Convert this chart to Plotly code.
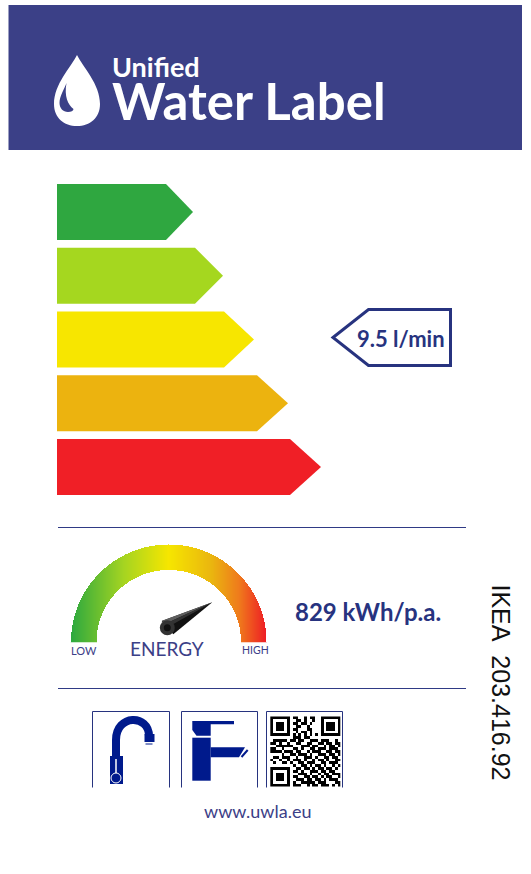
import numpy as np
import plotly.graph_objects as go

# rating bands, longest arrow is the worst class
band_lengths = [136, 166, 197, 231, 264]
band_colors = ["#2fa740", "#a5d71f", "#f7e600", "#ecb30f", "#f01f26"]

flow_label = "9.5 l/min"
energy_label = "829 kWh/p.a."
product_label = "IKEA\u00a0\u00a0203.416.92"
site_label = "www.uwla.eu"

gauge_stops = [
    [0.0, "#2ca83f"], [0.27, "#a5d421"], [0.5, "#f6e600"],
    [0.72, "#eab50f"], [0.86, "#ef7a1c"], [1.0, "#ee1c25"],
]

qr_rows = [
    "1111111011001011001111111",
    "1000001001101001001000001",
    "1011101011011010001011101",
    "1011101001100100001011101",
    "1011101011000110001011101",
    "1000001001011010001000001",
    "1111111010101010101111111",
    "0000000011101100000000000",
    "0111110110110011101110010",
    "1101001001100110011011011",
    "0011111100011101100101101",
    "1100100011010011011101110",
    "1111011101100101110011011",
    "0000100110111010011101101",
    "0110111001001110100110110",
    "1001001011101001011010011",
    "0100110100110111001101110",
    "0000000010011010110100101",
    "1111111001101101011011010",
    "1000001011010011101101100",
    "1011101000111010010110111",
    "1011101011001101101011001",
    "1011101001110110110101110",
    "1000001010011111011100011",
    "1111111011100101101110101",
]

NAVY = "#3b4087"
DARK_BLUE = "#27337f"
TAP_BLUE = "#001a8c"

fig = go.Figure()

# header
fig.add_shape(type="rect", x0=8.5, x1=522, y0=5, y1=150, fillcolor="#3b4087", line_width=0)
fig.add_shape(type="path", fillcolor="white", line_width=0, path=(
    "M 77 55 C 71 67 54 84 54 104 C 54 118 64 126 77 126 C 90 126 100 118 100 104 "
    "C 100 84 83 67 77 55 Z"))
fig.add_shape(type="path", fillcolor="#3b4087", line_width=0, path=(
    "M 66.5 83 C 64 90 59.5 96 59.5 103 C 59.5 108 63 112 68 112 C 71 112 73.5 111 73.5 109 "
    "C 68 105 64 96 66.5 83 Z"))


def add_text(text, x, y, size, color, xanchor="left", bold=False, angle=0, family="Lato"):
    fig.add_annotation(
        x=x, y=y, text="<b>{}</b>".format(text) if bold else text, showarrow=False,
        xanchor=xanchor, yanchor="middle", textangle=angle, align="left",
        font=dict(family=family, size=size, color=color),
    )


# one text block, the two lines sit closer than their own boxes would allow
add_text('<span style="font-size:27px">Unified</span><br>'
         '<span style="font-size:51px">Water Label</span>',
         109.5, 90, 33, "white", bold=True)

# rating arrows
band_x0 = 57
band_y0 = 184
band_height = 56
band_step = 63.75
tip_depths = [27, 28, 30, 31, 31]
for i, (length, color) in enumerate(zip(band_lengths, band_colors)):
    top = band_y0 + i * band_step
    tip = band_x0 + length
    shoulder = tip - tip_depths[i]
    fig.add_trace(go.Scatter(
        x=[band_x0, shoulder, tip, shoulder, band_x0, band_x0],
        y=[top, top, top + band_height / 2, top + band_height, top + band_height, top],
        fill="toself", fillcolor=color, mode="none", hoverinfo="skip",
    ))

# flow pointer
fig.add_shape(type="path", path="M 333 337.5 L 368.5 309.5 L 450.5 309.5 L 450.5 365.5 L 368.5 365.5 Z",
              fillcolor="white", line=dict(color=DARK_BLUE, width=3))
add_text(flow_label, 401, 338, 22, DARK_BLUE, xanchor="center", bold=True)

# separators
for y in [527.5, 688.5]:
    fig.add_shape(type="line", x0=58, x1=466, y0=y, y1=y, line=dict(color="#2f3a85", width=1))

# gauge, coloured left to right
cx, cy, r_out, r_in = 168.5, 642, 97.5, 72
gx = np.arange(cx - r_out, cx + r_out + 0.25, 0.5)
gy = np.arange(cy - r_out, cy + 0.25, 0.5)
xx, yy = np.meshgrid(gx, gy)
rr = np.hypot(xx - cx, yy - cy)
gz = (xx - gx[0]) / (gx[-1] - gx[0])
gz[(rr > r_out) | (rr < r_in)] = np.nan
fig.add_trace(go.Heatmap(x=gx, y=gy, z=gz, colorscale=gauge_stops, zmin=0, zmax=1,
                         showscale=False, hoverinfo="skip"))

# needle, lighter along its upper edge
fig.add_shape(type="path", fillcolor="#111111", line_width=0,
              path="M 212.3 602.3 L 161.7 621 L 173.3 634.3 Z")
fig.add_shape(type="path", fillcolor="#5e5e5e", line_width=0,
              path="M 212.3 602.3 L 162 620.7 L 165 624 Z")
fig.add_shape(type="path", fillcolor="#333333", line_width=0,
              path="M 212.3 602.3 L 165 624 L 168 627 Z")
fig.add_shape(type="circle", x0=159.8, x1=174.8, y0=620.2, y1=635.2, fillcolor="#333333", line_width=0)
fig.add_shape(type="circle", x0=163.8, x1=170.8, y0=624.2, y1=631.2, fillcolor="#111111", line_width=0)

add_text("LOW", 69, 650, 11, NAVY)
add_text("ENERGY", 166.5, 648, 19, NAVY, xanchor="center")
add_text("HIGH", 240, 650, 10.5, NAVY)
add_text(energy_label, 293, 611, 24, DARK_BLUE, bold=True)
add_text(product_label, 501, 682.5, 25, "#111111", xanchor="center", angle=90, family="Liberation Sans")

# icon frames, open at the bottom
for x0, x1 in [(92.5, 169.5), (181.5, 257.5), (266.5, 342.5)]:
    fig.add_shape(type="path", path="M {0} 787.5 L {0} 711.5 L {1} 711.5 L {1} 787.5".format(x0, x1),
                  line=dict(color=DARK_BLUE, width=1))

# kitchen tap
fig.add_shape(type="path", path="M 116 758 L 116 740 C 116 714 149 714 149 736",
              line=dict(color=TAP_BLUE, width=8))
fig.add_shape(type="rect", x0=110, x1=123, y0=756, y1=784, fillcolor=TAP_BLUE, line_width=0)
fig.add_shape(type="circle", x0=111, x1=121, y0=773, y1=783, line=dict(color="white", width=1))
fig.add_shape(type="line", x0=116, x1=116, y0=759, y1=773, line=dict(color="white", width=1.5))
fig.add_shape(type="rect", x0=144.5, x1=154.5, y0=734, y1=742, fillcolor=TAP_BLUE, line_width=0)
fig.add_shape(type="line", x0=145.5, x1=152.5, y0=744, y1=744, line=dict(color=TAP_BLUE, width=1))

# basin tap
fig.add_shape(type="path", fillcolor=TAP_BLUE, line_width=0,
              path="M 192.3 721 L 234 721 L 234 724.3 L 210.7 724.3 L 210.7 735.7 L 196.5 735.7 L 192.3 730 Z")
fig.add_shape(type="rect", x0=192.3, x1=210.7, y0=737.7, y1=780.7, fillcolor=TAP_BLUE, line_width=0)
fig.add_shape(type="path", fillcolor=TAP_BLUE, line_width=0,
              path="M 210.7 747.3 L 245 747.3 L 239 757.3 L 210.7 757.3 Z")
fig.add_shape(type="line", x0=247.7, x1=241.5, y0=750, y1=757, line=dict(color=TAP_BLUE, width=2))

# qr code
qr = [[int(c) for c in row] for row in qr_rows]
qr_size = 25
qr_x = 270.3 + (np.arange(qr_size) + 0.5) * 2.78
qr_y = 716.5 + (np.arange(qr_size) + 0.5) * 2.78
fig.add_trace(go.Heatmap(x=qr_x, y=qr_y, z=qr, colorscale=[[0, "white"], [1, "black"]],
                         zmin=0, zmax=1, showscale=False, hoverinfo="skip"))

add_text(site_label, 257, 810.5, 18, NAVY, xanchor="center")

fig.update_layout(
    width=531, height=874, margin=dict(l=0, r=0, t=0, b=0),
    paper_bgcolor="white", plot_bgcolor="white", showlegend=False,
    xaxis=dict(range=[0, 531], visible=False),
    yaxis=dict(range=[874, 0], visible=False),
)

fig.write_html("out.html", config=dict(displayModeBar=False),
               post_script="document.body.style.margin='0';")
